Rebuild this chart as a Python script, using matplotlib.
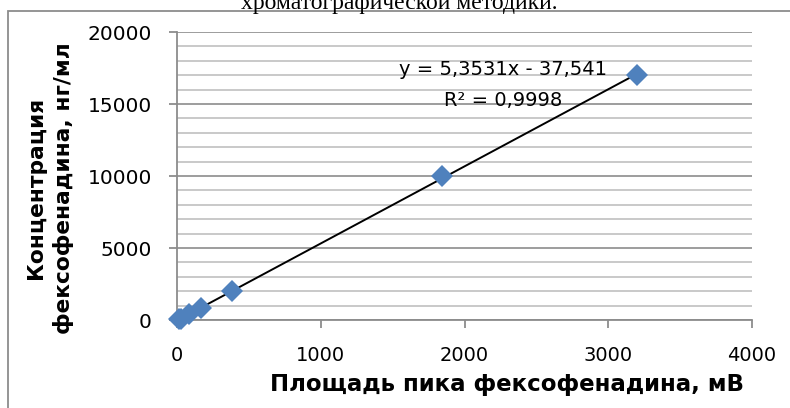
import matplotlib
matplotlib.use("Agg")
import matplotlib.pyplot as plt
from matplotlib.patches import Rectangle
from matplotlib.ticker import MultipleLocator

# peak area (mV) vs concentration (ng/ml)
peak_area = [15, 27, 80, 165, 385, 1840, 3200]
concentration = [50, 100, 400, 800, 2000, 10000, 17000]
slope = 5.3531
intercept = -37.541

eq_text = "y = 5,3531x - 37,541"
r2_text = "R² = 0,9998"
x_title = "Площадь пика фексофенадина, мВ"
y_title = "Концентрация\nфексофенадина, нг/мл"
caption = "хроматографической методики."

plt.rcParams["font.family"] = ["DejaVu Sans"]

fig = plt.figure(figsize=(7.9, 4.08), dpi=100)
ax = fig.add_axes([177 / 790, 1 - 320 / 408, (752 - 177) / 790, (320 - 32) / 408])

# chart frame and cut-off caption above it
fig.patches.append(Rectangle((8 / 790, -0.1), 1.2, 1.1 - 11 / 408, transform=fig.transFigure,
                             fill=False, edgecolor="#8c8c8c", linewidth=1.3))
fig.text(0.505, 1 - 9 / 408, caption, family="Liberation Serif", fontsize=17,
         ha="center", va="baseline")

ax.set_xlim(0, 4000)
ax.set_ylim(0, 20000)
ax.xaxis.set_major_locator(MultipleLocator(1000))
ax.yaxis.set_major_locator(MultipleLocator(5000))
ax.yaxis.set_minor_locator(MultipleLocator(1000))
ax.grid(axis="y", which="major", color="#8c8c8c", linewidth=1.2)
ax.grid(axis="y", which="minor", color="#c0c0c0", linewidth=1.2)
ax.set_axisbelow(True)
for s in ["top", "right"]:
    ax.spines[s].set_visible(False)
for s in ["left", "bottom"]:
    ax.spines[s].set_color("#8c8c8c")
    ax.spines[s].set_linewidth(1.3)
ax.tick_params(axis="x", length=6, width=1.3, color="#8c8c8c", pad=13, labelsize=14)
ax.tick_params(axis="y", which="major", length=6, width=1.3, color="#8c8c8c", pad=12, labelsize=14.5)
ax.tick_params(axis="y", which="minor", length=0)

xs = [min(peak_area), max(peak_area)]
ax.plot(xs, [slope * x + intercept for x in xs], color="black", linewidth=1.4, zorder=2)
ax.plot(peak_area, concentration, linestyle="none", marker="D", markersize=11,
        color="#4f81bd", markeredgewidth=0, zorder=3, clip_on=False)

ax.text(2268, 17430, eq_text, fontsize=14, ha="center", va="center")
ax.text(2268, 15250, r2_text, fontsize=14, ha="center", va="center")

fig.text(507 / 790, 1 - 384 / 408, x_title, fontsize=16.5, fontweight="bold", ha="center", va="center")
fig.text(50 / 790, 1 - 188 / 408, y_title, fontsize=15.7, fontweight="bold", ha="center", va="center",
         rotation=90, linespacing=1.45)

fig.savefig("out.png", dpi=100)
